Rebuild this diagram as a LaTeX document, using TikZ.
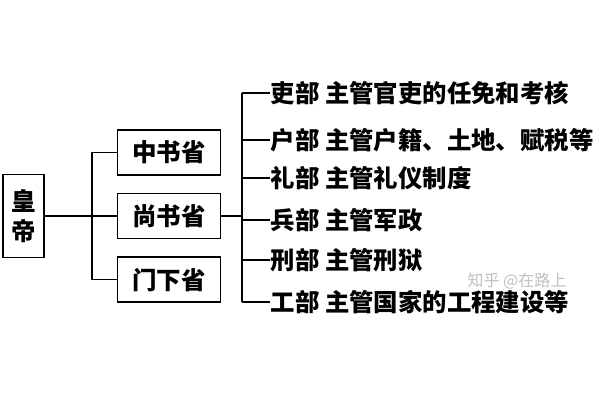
\documentclass[tikz,border=0pt]{standalone}
\usepackage{fontspec}
\setmainfont{Noto Sans CJK SC}
\usetikzlibrary{positioning}
\begin{document}
\begin{tikzpicture}[x=1pt, y=1pt, line width=1.6pt, node distance={17pt},
    box/.style = {draw, minimum width=103pt, minimum height=45pt, inner sep=0pt, font=\bfseries\fontsize{24.5}{30}\selectfont},
    dept/.style = {anchor=west, inner sep=0pt, font=\bfseries\fontsize{24.4}{28}\selectfont}]
    \useasboundingbox (0,0) rectangle (600,400);
    \node[box, minimum width=41pt, minimum height=83pt, align=center] (huangdi) at (23.5,184) {皇\\帝};
    \node[box] (shangshu) [right=72pt of huangdi] {尚书省};
    \node[box] (zhongshu) [above=of shangshu] {中书省};
    \node[box] (menxia) [below=of shangshu] {门下省};
    \coordinate (fork) at (92,184);
    \coordinate (spine) at (242,184);
    % six ministries
    \node[dept] (li) at (270,307) {吏部 主管官吏的任免和考核};
    \node[dept] (hu) at (270,260) {户部 主管户籍、土地、赋税等};
    \node[dept] (lib) at (270,222) {礼部 主管礼仪制度};
    \node[dept] (bing) at (270,180) {兵部 主管军政};
    \node[dept] (xing) at (270,140) {刑部 主管刑狱};
    \node[dept] (gong) at (270,98) {工部 主管国家的工程建设等};
    \node[text=black!25, font=\fontsize{16}{16}\selectfont] (mark) at (517,119) {知乎 @在路上};
    \draw (huangdi) -- (shangshu);
    \draw (zhongshu.west) -| (fork) |- (menxia.west);
    \draw (shangshu) -- (spine);
    \draw (spine |- li.west) -- (spine |- gong.west);
    \draw (spine |- li.west) -- (li.west);
    \draw (spine |- hu.west) -- (hu.west);
    \draw (spine |- lib.west) -- (lib.west);
    \draw (spine |- bing.west) -- (bing.west);
    \draw (spine |- xing.west) -- (xing.west);
    \draw (spine |- gong.west) -- (gong.west);
\end{tikzpicture}
\end{document}
